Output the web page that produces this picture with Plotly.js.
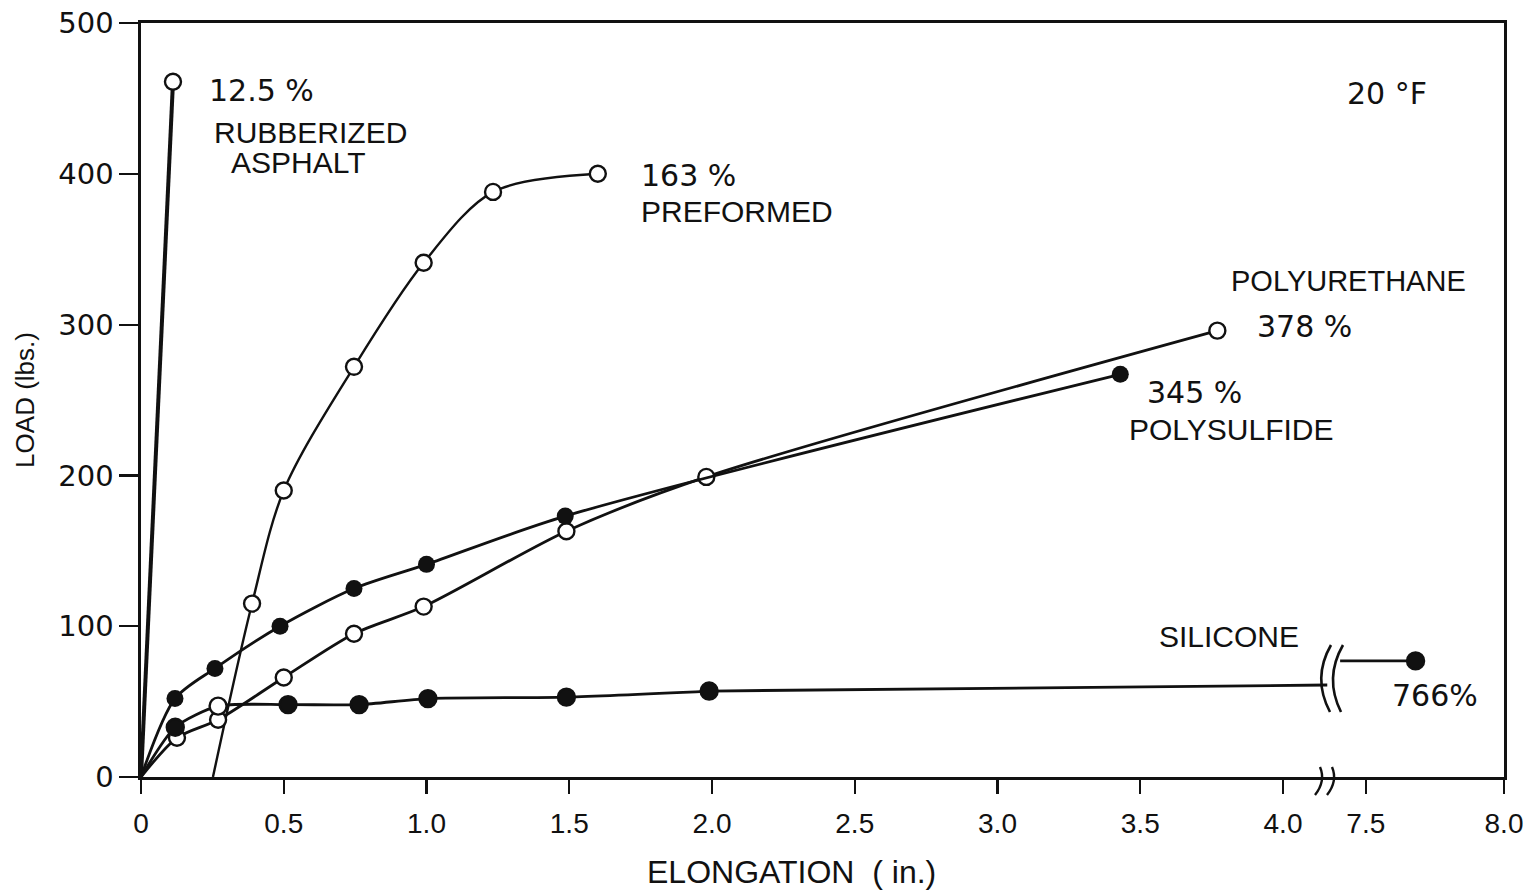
<!DOCTYPE html>
<html>
<head>
<meta charset="utf-8">
<script src="https://cdn.plot.ly/plotly-3.0.1.min.js"></script>
<style>
  html, body { margin: 0; padding: 0; background: #fff; }
  #chart { width: 1523px; height: 891px; }
</style>
</head>
<body>
<div id="chart"></div>
<script>
// ---- data (elongation in inches, load in lbs) ----
const asphaltElong = [0, 0.112];
const asphaltLoad  = [0, 461];

const preformedElong = [0.252, 0.389, 0.50, 0.746, 0.99, 1.233, 1.60];
const preformedLoad  = [0, 115, 190, 272, 341, 388, 400];

const urethaneElong = [0, 0.126, 0.27, 0.50, 0.746, 0.99, 1.49, 1.98, 3.77];
const urethaneLoad  = [0, 26, 38, 66, 95, 113, 163, 199, 296];

const sulfideElong = [0, 0.119, 0.259, 0.487, 0.746, 1.0, 1.486, 3.43];
const sulfideLoad  = [0, 52, 72, 100, 125, 141, 173, 267];

const siliconeElong = [0, 0.12, 0.27, 0.515, 0.764, 1.005, 1.49, 1.99];
const siliconeLoad  = [0, 33, 47, 48, 48, 52, 53, 57];
const siliconeOpen  = [false, false, true, false, false, false, false, false];
const siliconeBreakLoad = [61, 77];   // load where the line meets the break, each side
const siliconeEndElong = 7.68;
const siliconeEndLoad  = 77;

const tickValues = [0, 0.5, 1.0, 1.5, 2.0, 2.5, 3.0, 3.5, 4.0, 7.5, 8.0];
const tickLabels = ['0', '0.5', '1.0', '1.5', '2.0', '2.5', '3.0', '3.5', '4.0', '7.5', '8.0'];
const yTicks = [0, 100, 200, 300, 400, 500];

// ---- broken axis mapping ----
const BREAK_AT = 7.5, BREAK_POS = 4.29, BREAK_SCALE = 0.968;
function toAxis(x) { return x >= 5 ? BREAK_POS + (x - BREAK_AT) * BREAK_SCALE : x; }
const BREAK_LEFT = 4.155, BREAK_RIGHT = 4.2;

const ink = '#111';
const FONT = 'Liberation Sans, Arial, sans-serif';
const NUMFONT = 'DejaVu Sans, sans-serif';
const LW = 2.8;

function filledMarker() { return {symbol: 'circle', size: 17, color: ink}; }
function openMarker() { return {symbol: 'circle', size: 16, color: '#fff', line: {width: 2.4, color: ink}}; }

const traces = [
  {x: asphaltElong.map(toAxis), y: asphaltLoad, mode: 'lines', line: {color: ink, width: 4}},
  {x: asphaltElong.slice(1).map(toAxis), y: asphaltLoad.slice(1), mode: 'markers', marker: openMarker()},
  {x: preformedElong.map(toAxis), y: preformedLoad, mode: 'lines', line: {color: ink, width: 2.4, shape: 'spline', smoothing: 0.9}},
  {x: preformedElong.slice(1).map(toAxis), y: preformedLoad.slice(1), mode: 'markers', marker: openMarker()},
  {x: urethaneElong.map(toAxis), y: urethaneLoad, mode: 'lines', line: {color: ink, width: LW, shape: 'spline', smoothing: 0.8}},
  {x: urethaneElong.slice(1).map(toAxis), y: urethaneLoad.slice(1), mode: 'markers', marker: openMarker()},
  {x: sulfideElong.map(toAxis), y: sulfideLoad, mode: 'lines', line: {color: ink, width: LW, shape: 'spline', smoothing: 0.8}},
  {x: sulfideElong.slice(1).map(toAxis), y: sulfideLoad.slice(1), mode: 'markers', marker: filledMarker()},
  {x: siliconeElong.map(toAxis), y: siliconeLoad, mode: 'lines', line: {color: ink, width: LW, shape: 'spline', smoothing: 0.7}},
  {x: [siliconeElong[siliconeElong.length-1], BREAK_LEFT], y: [siliconeLoad[siliconeLoad.length-1], siliconeBreakLoad[0]],
   mode: 'lines', line: {color: ink, width: LW}},
  {x: [BREAK_RIGHT, toAxis(siliconeEndElong)], y: [siliconeBreakLoad[1], siliconeEndLoad], mode: 'lines', line: {color: ink, width: LW}},
  {x: siliconeElong.slice(1).map(toAxis).concat([toAxis(siliconeEndElong)]),
   y: siliconeLoad.slice(1).concat([siliconeEndLoad]), mode: 'markers',
   marker: {symbol: 'circle', size: 17,
     color: siliconeOpen.slice(1).map(o => o ? '#fff' : ink).concat([ink]),
     line: {width: 2.4, color: ink}}}
];

// helpers to place decorations at plot-area pixel positions (plot area: x 141..1504, y 23..777)
function px2x(px) { return (px - 141) / 285.5; }
function py2y(py) { return (777 - py) / 1.508; }
function pxp(px) { return ((px - 141) / 1363).toFixed(5); }
function pyp(py) { return ((777 - py) / 754).toFixed(5); }
function label(text, px, py, size, fam) {
  return {text: text, x: px2x(px), y: py2y(py), xref: 'x', yref: 'y', xanchor: 'left', yanchor: 'middle',
          showarrow: false, font: {family: fam || FONT, size: size || 30, color: ink}};
}

const annotations = [
  label('12.5 %', 207, 90, 30, NUMFONT),
  label('RUBBERIZED', 212, 132),
  label('ASPHALT', 229, 162),
  label('163 %', 639, 175, 30, NUMFONT),
  label('PREFORMED', 639, 211),
  label('POLYURETHANE', 1229, 281, 29),
  label('378 %', 1255, 326, 30, NUMFONT),
  label('345 %', 1145, 392, 30, NUMFONT),
  label('POLYSULFIDE', 1127, 429),
  label('SILICONE', 1157, 636),
  label('766%', 1390, 695, 30, NUMFONT),
  label('20 °F', 1345, 93, 30, NUMFONT),
  // x-axis title (centred where the original prints it)
  {text: 'ELONGATION  ( in.)', x: pxp(792), y: pyp(872), xref: 'paper', yref: 'paper',
   xanchor: 'center', yanchor: 'middle', showarrow: false, font: {family: FONT, size: 32, color: ink}}
];

function curve(x0, y0, cx, cy, x1, y1) {
  return 'M' + pxp(x0) + ',' + pyp(y0) + ' Q' + pxp(cx) + ',' + pyp(cy) + ' ' + pxp(x1) + ',' + pyp(y1);
}
const shapes = [
  // silicone break "(("
  {type: 'path', xref: 'paper', yref: 'paper', path: curve(1331, 645, 1312, 678, 1330, 712), line: {color: ink, width: 2.6}},
  {type: 'path', xref: 'paper', yref: 'paper', path: curve(1343, 645, 1324, 678, 1341, 712), line: {color: ink, width: 2.6}},
  // axis break "))"
  {type: 'path', xref: 'paper', yref: 'paper', path: curve(1320, 767, 1326, 781, 1315, 795), line: {color: ink, width: 2.4}},
  {type: 'path', xref: 'paper', yref: 'paper', path: curve(1332, 767, 1338, 781, 1327, 795), line: {color: ink, width: 2.4}}
];

const layout = {
  width: 1523, height: 891,
  margin: {l: 141, r: 19, t: 23, b: 114},
  paper_bgcolor: '#fff', plot_bgcolor: '#fff',
  showlegend: false,
  xaxis: {
    range: [0, toAxis(8.0)], tickvals: tickValues.map(toAxis), ticktext: tickLabels,
    showgrid: false, zeroline: false, showline: true, mirror: true, linecolor: ink, linewidth: 2.6,
    ticks: 'outside', ticklen: 14, tickwidth: 2.2, tickcolor: ink, ticklabeloverflow: 'allow',
    tickfont: {family: FONT, size: 28, color: ink}, ticklabelstandoff: 6
  },
  yaxis: {
    range: [0, 500], tickvals: yTicks,
    showgrid: false, zeroline: false, showline: true, mirror: true, linecolor: ink, linewidth: 2.6,
    ticks: 'outside', ticklen: 19, tickwidth: 2.2, tickcolor: ink,
    tickfont: {family: NUMFONT, size: 29, color: ink},
    title: {text: 'LOAD (lbs.)', font: {family: FONT, size: 26, color: ink}, standoff: 16}
  },
  annotations: annotations,
  shapes: shapes
};

Plotly.newPlot('chart', traces, layout, {displayModeBar: false, staticPlot: true});
</script>
</body>
</html>
